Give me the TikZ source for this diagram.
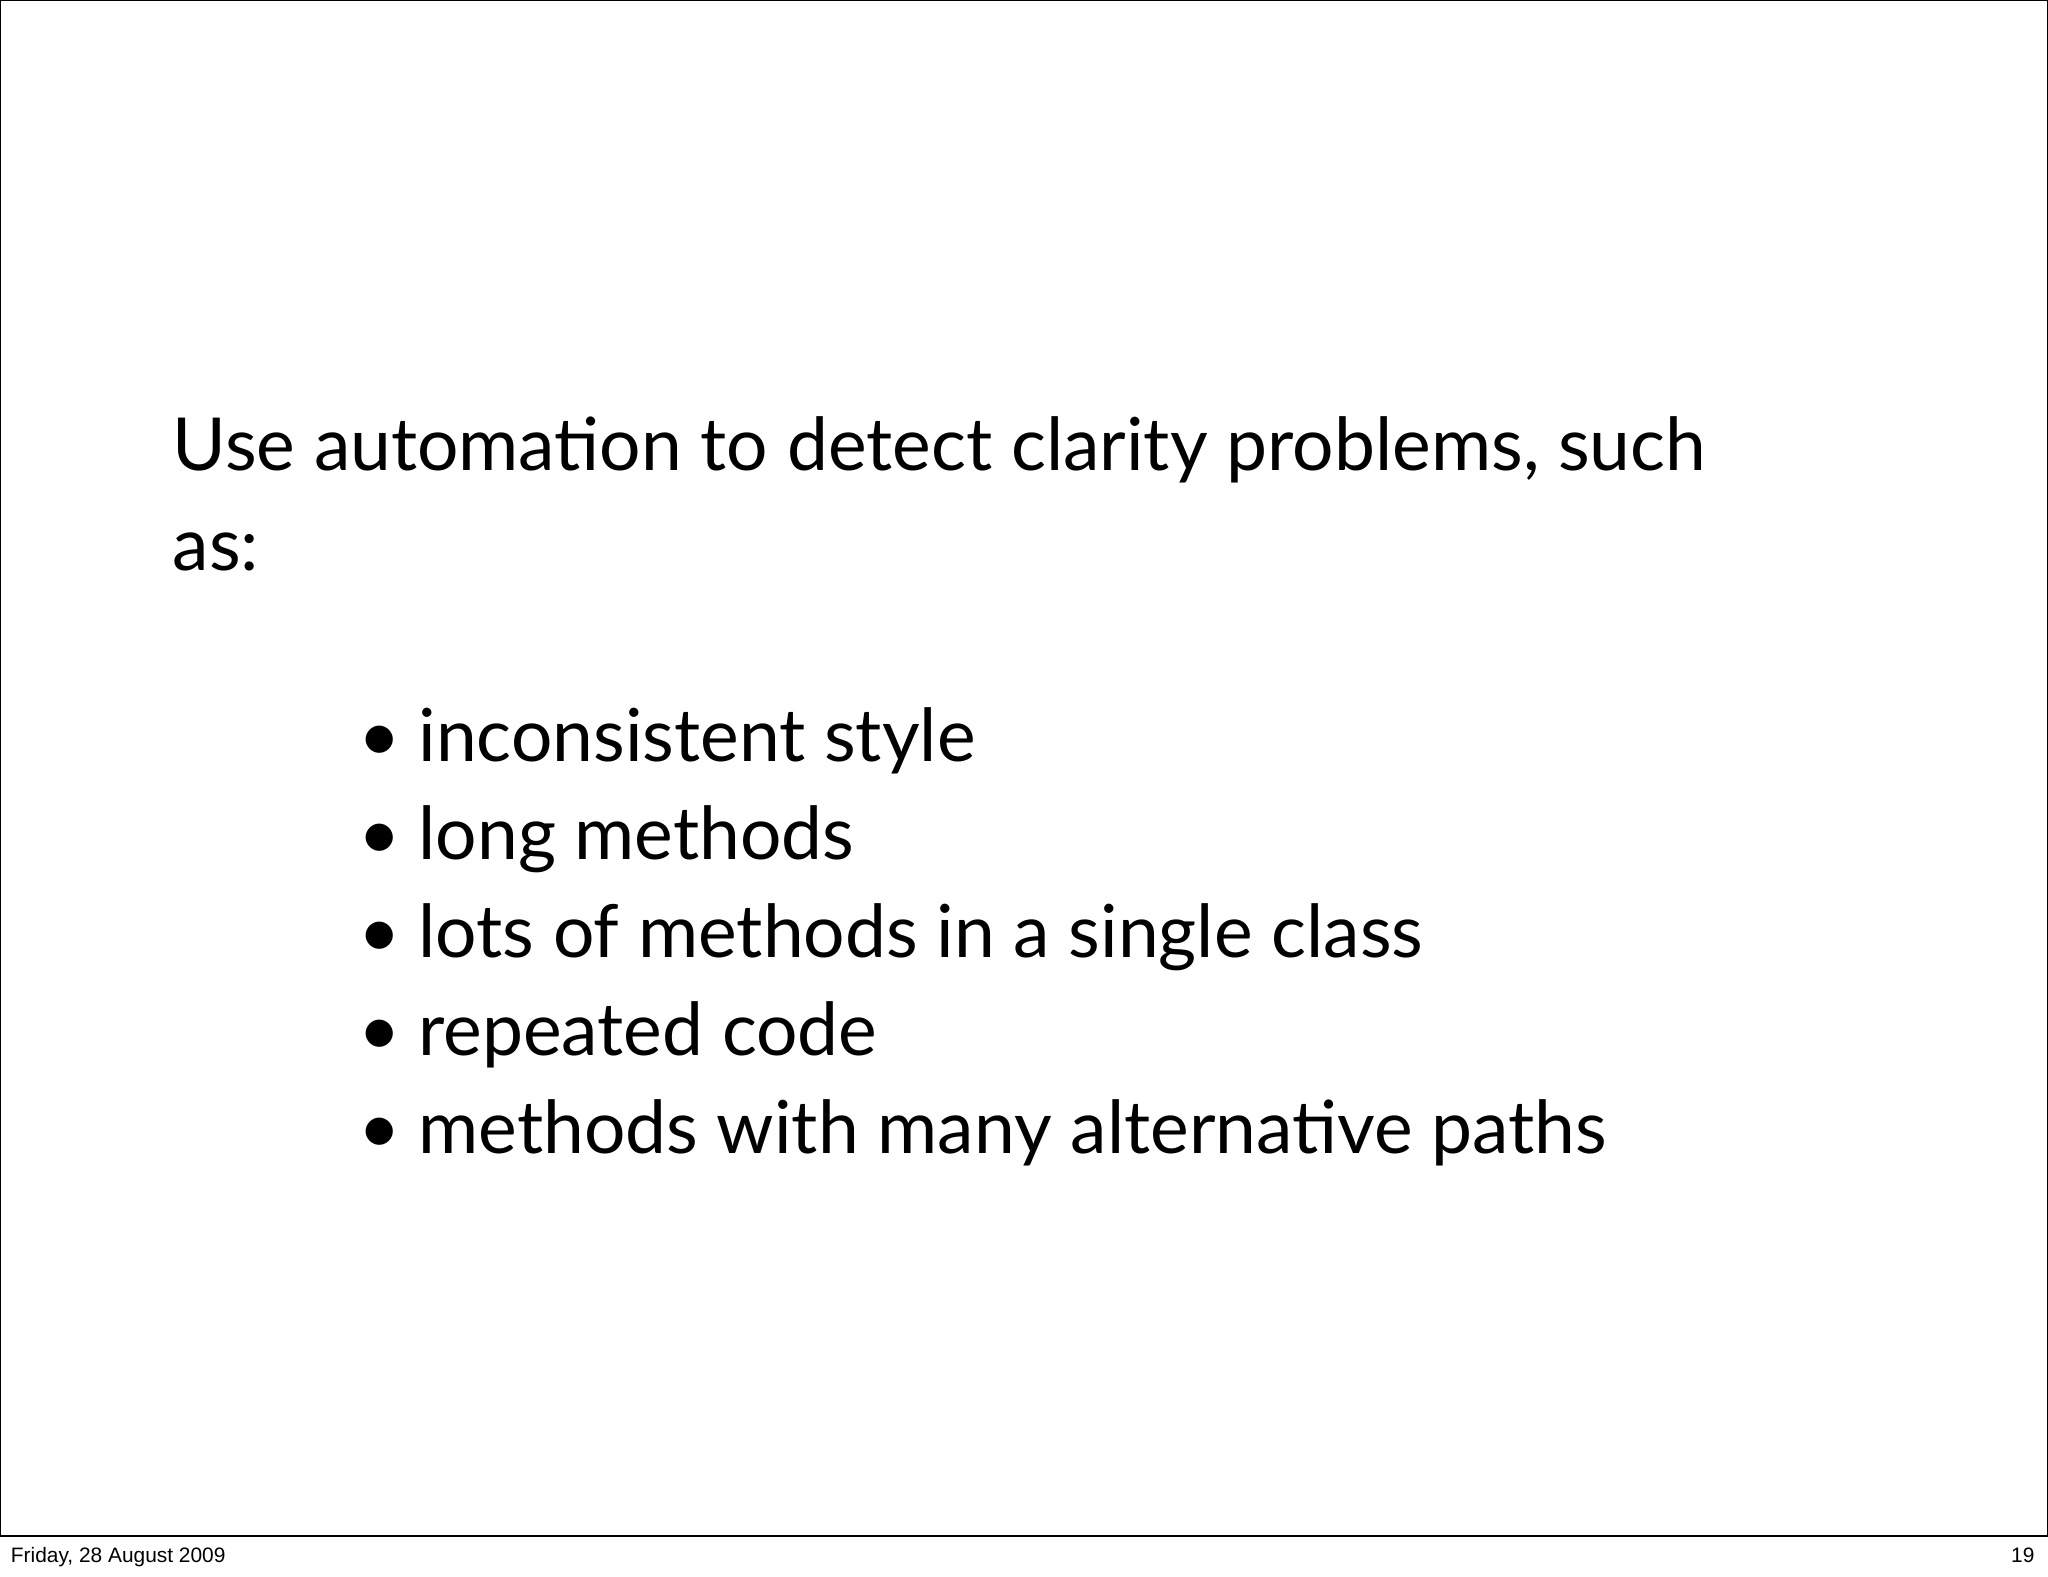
\documentclass[tikz,border=0pt]{standalone}
\usepackage{fontspec}
\setmainfont{Lato}
\newfontfamily\footfont{Liberation Sans}
\usetikzlibrary{positioning}

\begin{document}
\begin{tikzpicture}[x=0.5pt, y=-0.5pt,
    slidetext/.style={anchor=base west, inner sep=0pt, font=\fontsize{28}{34}\selectfont},
    foottext/.style={anchor=base, inner sep=0pt, font=\footfont\fontsize{8}{10}\selectfont}]
  % page and frame
  \useasboundingbox (0,0) rectangle (1568,1207);
  \fill[white] (0,0) rectangle (1568,1207);
  \draw[line width=0.6pt] (0.5,0.5) rectangle (1567.5,1176);

  % heading
  \node[slidetext] (head1) at (132,360) {Use automation to detect clarity problems, such};
  \node[slidetext] (head2) at (132,437) {as:};

  % bullet list
  \foreach \y/\txt [count=\i] in {583/inconsistent style, 658/long methods,
      733/lots of methods in a single class, 808/repeated code,
      883/methods with many alternative paths} {
    \node[slidetext] (dot\i) at (274,\y) {•};
    \node[slidetext] (item\i) at (320,\y) {\txt};
  }

  % footer
  \node[foottext, anchor=base west] (date) at (8,1196) {Friday, 28 August 2009};
  \node[foottext, anchor=base east] (page) at (1558,1196) {19};
\end{tikzpicture}
\end{document}
